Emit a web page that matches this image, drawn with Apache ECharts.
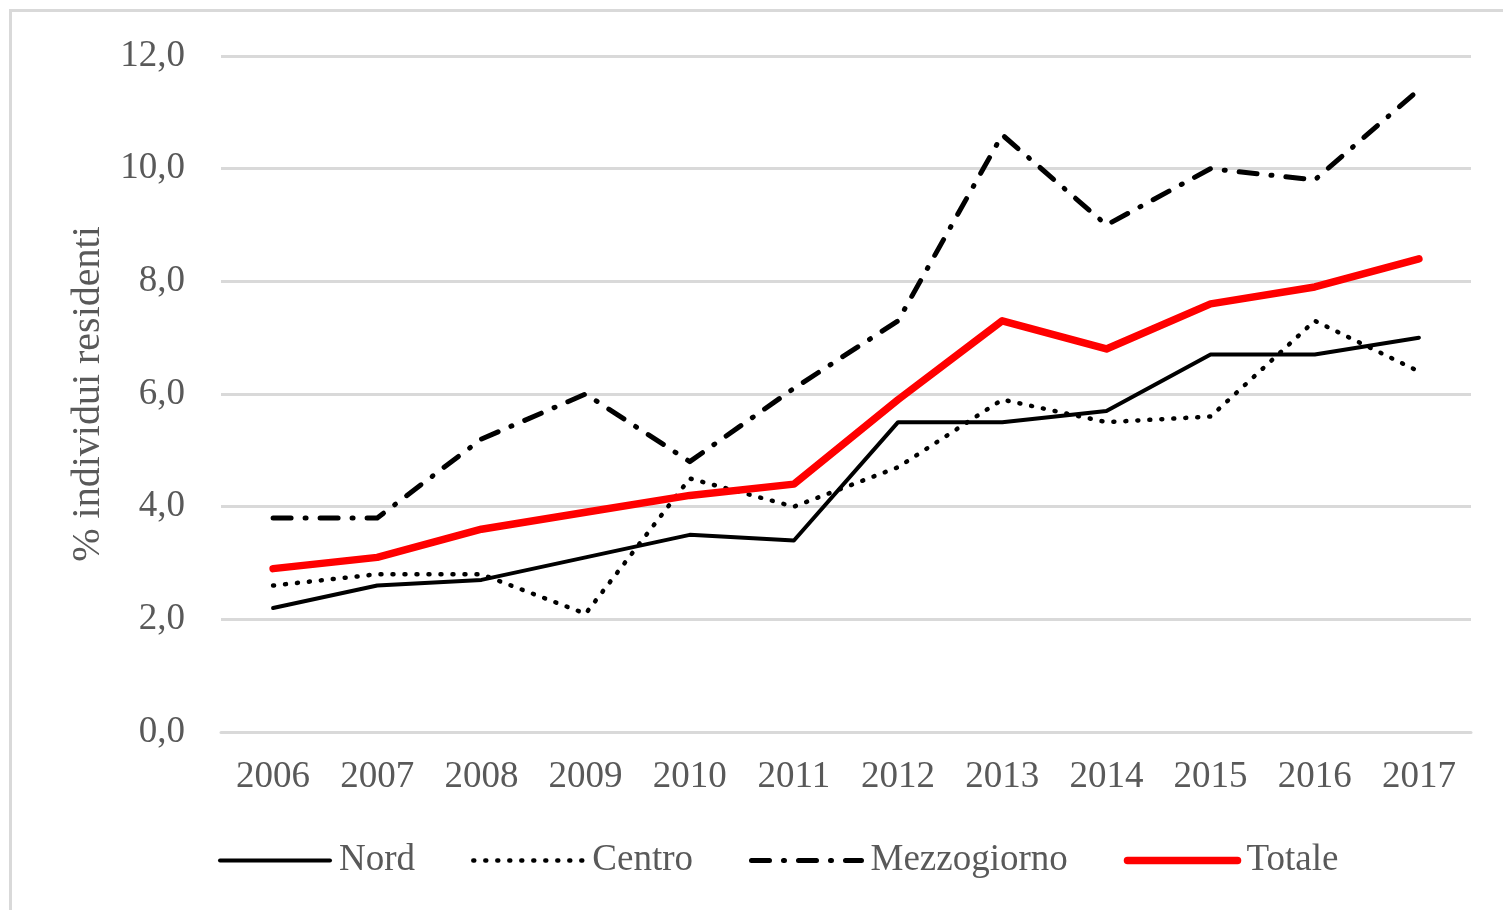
<!DOCTYPE html>
<html>
<head>
<meta charset="utf-8">
<script src="https://cdn.jsdelivr.net/npm/echarts@6/dist/echarts.min.js"></script>
<style>
  html, body { margin: 0; padding: 0; background: #fff; }
  #frame { position: absolute; left: 9px; top: 9px; width: 1510px; height: 920px; border: 3px solid #d9d9d9; box-sizing: border-box; }
  #chart { position: absolute; left: 0; top: 0; width: 1503px; height: 910px; }
</style>
</head>
<body>
<div id="frame"></div>
<div id="chart"></div>
<script>
const years = ["2006", "2007", "2008", "2009", "2010", "2011", "2012", "2013", "2014", "2015", "2016", "2017"];
const nord = [2.2, 2.6, 2.7, 3.1, 3.5, 3.4, 5.5, 5.5, 5.7, 6.7, 6.7, 7.0];
const centro = [2.6, 2.8, 2.8, 2.1, 4.5, 4.0, 4.7, 5.9, 5.5, 5.6, 7.3, 6.4];
const mezzogiorno = [3.8, 3.8, 5.2, 6.0, 4.8, 6.1, 7.3, 10.6, 9.0, 10.0, 9.8, 11.4];
const totale = [2.9, 3.1, 3.6, 3.9, 4.2, 4.4, 5.9, 7.3, 6.8, 7.6, 7.9, 8.4];

const font = "'Liberation Serif', 'Times New Roman', serif";
const grey = "#595959";

const chart = echarts.init(document.getElementById("chart"), null, { renderer: "canvas" });

const styles = {
  Nord: { color: "#000", width: 4, type: "solid" },
  Centro: { color: "#000", width: 4.5, type: [1, 11] },
  Mezzogiorno: { color: "#000", width: 5, type: [18, 14, 1, 14] },
  Totale: { color: "#ff0000", width: 7.5, type: "solid" }
};

const mk = (name, data) => ({
  name,
  type: "line",
  data,
  symbol: "none",
  lineStyle: { ...styles[name], cap: "round", join: "round" },
  itemStyle: { color: styles[name].color }
});

chart.setOption({
  animation: false,
  textStyle: { fontFamily: font },
  grid: { left: 221, right: 32, top: 56, bottom: 178 },
  xAxis: {
    type: "category",
    data: years,
    boundaryGap: true,
    axisLine: { lineStyle: { color: "#d9d9d9", width: 3 } },
    axisTick: { show: false },
    axisLabel: { color: grey, fontSize: 37, fontFamily: font, margin: 27 }
  },
  yAxis: {
    type: "value",
    min: 0,
    max: 12,
    interval: 2,
    name: "% individui residenti",
    nameLocation: "middle",
    nameGap: 113,
    nameTextStyle: { color: grey, fontSize: 40, fontFamily: font },
    axisLine: { show: false },
    axisTick: { show: false },
    splitLine: { lineStyle: { color: "#d9d9d9", width: 3 } },
    axisLabel: {
      color: grey, fontSize: 37, fontFamily: font, margin: 36,
      formatter: v => v.toFixed(1).replace(".", ",")
    }
  },
  legend: {
    bottom: 26,
    left: 213,
    itemWidth: 110,
    itemHeight: 10,
    itemGap: 56,
    textStyle: { color: grey, fontSize: 37, fontFamily: font, padding: [0, 0, 0, 4] },
    data: Object.keys(styles).map(name => ({
      name,
      itemStyle: { opacity: 0 },
      lineStyle: { ...styles[name], cap: "round" }
    }))
  },
  series: [
    mk("Nord", nord),
    mk("Centro", centro),
    mk("Mezzogiorno", mezzogiorno),
    mk("Totale", totale)
  ]
});
</script>
</body>
</html>
